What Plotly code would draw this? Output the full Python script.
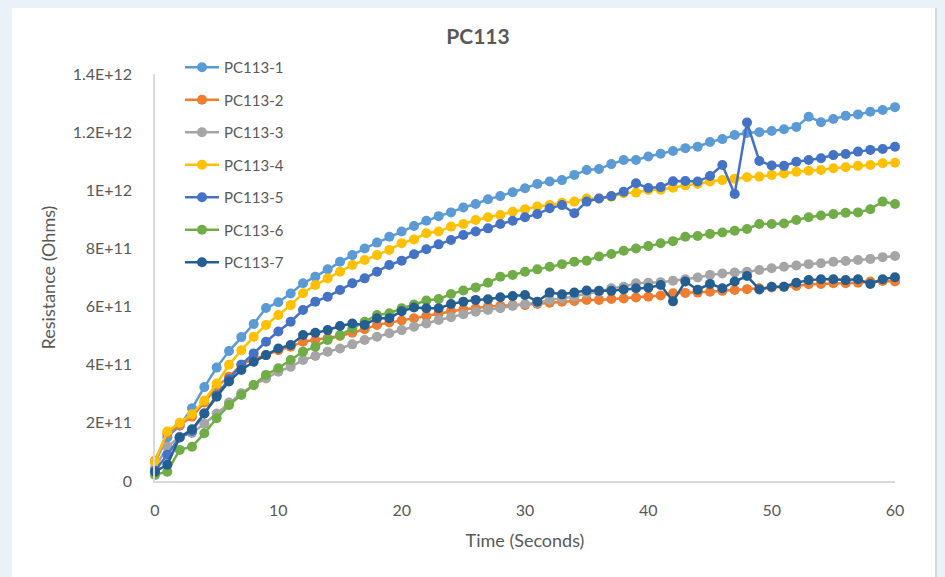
import plotly.graph_objects as go

time_s = list(range(61))

pc113_1 = [0.065, 0.15, 0.19, 0.25, 0.323, 0.39, 0.447, 0.495, 0.54, 0.595,
           0.615, 0.645, 0.68, 0.703, 0.728, 0.754, 0.777, 0.80, 0.82, 0.84,
           0.858, 0.877, 0.895, 0.911, 0.924, 0.941, 0.953, 0.969, 0.98, 0.993,
           1.007, 1.022, 1.03, 1.035, 1.053, 1.07, 1.073, 1.09, 1.104, 1.104,
           1.116, 1.126, 1.135, 1.145, 1.15, 1.166, 1.176, 1.19, 1.197, 1.20,
           1.204, 1.21, 1.218, 1.253, 1.234, 1.245, 1.256, 1.261, 1.27, 1.276,
           1.286]
pc113_2 = [0.07, 0.164, 0.193, 0.221, 0.27, 0.324, 0.359, 0.40, 0.42, 0.433,
           0.45, 0.462, 0.479, 0.485, 0.491, 0.499, 0.51, 0.522, 0.537, 0.545,
           0.552, 0.56, 0.567, 0.577, 0.585, 0.591, 0.594, 0.60, 0.603, 0.605,
           0.605, 0.609, 0.613, 0.617, 0.619, 0.623, 0.623, 0.626, 0.628, 0.631,
           0.634, 0.638, 0.646, 0.647, 0.648, 0.651, 0.654, 0.657, 0.66, 0.663,
           0.666, 0.668, 0.671, 0.677, 0.678, 0.68, 0.68, 0.682, 0.686, 0.688,
           0.686]
pc113_3 = [0.045, 0.118, 0.152, 0.165, 0.197, 0.232, 0.27, 0.302, 0.33, 0.353,
           0.376, 0.393, 0.416, 0.43, 0.445, 0.456, 0.47, 0.485, 0.496, 0.508,
           0.519, 0.531, 0.542, 0.554, 0.563, 0.574, 0.582, 0.588, 0.594, 0.602,
           0.609, 0.613, 0.623, 0.628, 0.634, 0.646, 0.651, 0.663, 0.668, 0.68,
           0.682, 0.684, 0.689, 0.694, 0.70, 0.709, 0.714, 0.717, 0.72, 0.726,
           0.732, 0.737, 0.741, 0.746, 0.749, 0.754, 0.757, 0.76, 0.764, 0.77,
           0.774]
pc113_4 = [0.066, 0.17, 0.20, 0.23, 0.277, 0.335, 0.40, 0.45, 0.496, 0.537,
           0.571, 0.605, 0.646, 0.674, 0.697, 0.72, 0.743, 0.76, 0.777, 0.795,
           0.818, 0.831, 0.852, 0.858, 0.875, 0.884, 0.898, 0.907, 0.915, 0.926,
           0.935, 0.944, 0.949, 0.957, 0.961, 0.972, 0.972, 0.978, 0.99, 0.992,
           1.001, 1.002, 1.009, 1.017, 1.022, 1.03, 1.035, 1.04, 1.045, 1.047,
           1.053, 1.058, 1.064, 1.067, 1.07, 1.076, 1.079, 1.084, 1.087, 1.093,
           1.095]
pc113_5 = [0.035, 0.09, 0.15, 0.172, 0.232, 0.295, 0.35, 0.40, 0.439, 0.479,
           0.514, 0.548, 0.588, 0.617, 0.634, 0.657, 0.68, 0.697, 0.72, 0.743,
           0.758, 0.78, 0.797, 0.814, 0.829, 0.846, 0.858, 0.869, 0.884, 0.895,
           0.907, 0.918, 0.938, 0.949, 0.921, 0.961, 0.972, 0.98, 0.995, 1.024,
           1.008, 1.011, 1.031, 1.032, 1.03, 1.049, 1.087, 0.987, 1.233, 1.101,
           1.085, 1.084, 1.098, 1.104, 1.11, 1.121, 1.125, 1.133, 1.139, 1.142,
           1.15]
pc113_6 = [0.021, 0.032, 0.107, 0.118, 0.164, 0.216, 0.261, 0.296, 0.33, 0.365,
           0.388, 0.416, 0.445, 0.462, 0.485, 0.502, 0.525, 0.548, 0.571, 0.577,
           0.594, 0.607, 0.621, 0.626, 0.643, 0.655, 0.666, 0.682, 0.703, 0.709,
           0.72, 0.728, 0.737, 0.746, 0.754, 0.758, 0.772, 0.781, 0.792, 0.80,
           0.808, 0.818, 0.825, 0.84, 0.843, 0.85, 0.855, 0.861, 0.867, 0.884,
           0.884, 0.886, 0.898, 0.907, 0.913, 0.918, 0.923, 0.924, 0.935, 0.961,
           0.953]
pc113_7 = [0.032, 0.056, 0.15, 0.178, 0.232, 0.29, 0.342, 0.382, 0.41, 0.433,
           0.456, 0.468, 0.502, 0.51, 0.519, 0.533, 0.542, 0.537, 0.56, 0.56,
           0.584, 0.597, 0.594, 0.594, 0.609, 0.617, 0.623, 0.625, 0.632, 0.636,
           0.64, 0.617, 0.648, 0.642, 0.648, 0.655, 0.654, 0.654, 0.659, 0.663,
           0.665, 0.674, 0.618, 0.686, 0.658, 0.678, 0.663, 0.686, 0.705, 0.659,
           0.668, 0.668, 0.682, 0.691, 0.694, 0.694, 0.691, 0.694, 0.678, 0.694,
           0.701]

series_names = ["PC113-1", "PC113-2", "PC113-3", "PC113-4", "PC113-5", "PC113-6", "PC113-7"]
series_values = [pc113_1, pc113_2, pc113_3, pc113_4, pc113_5, pc113_6, pc113_7]
series_colors = ["#5B9BD5", "#ED7D31", "#A5A5A5", "#FFC000", "#4472C4", "#70AD47", "#255E91"]

y_tick_vals = [0, 2e11, 4e11, 6e11, 8e11, 1e12, 1.2e12, 1.4e12]
y_tick_text = ["0", "2E+11", "4E+11", "6E+11", "8E+11", "1E+12", "1.2E+12", "1.4E+12"]
x_tick_vals = [0, 10, 20, 30, 40, 50, 60]

FONT = "Lato"
TXT = "#595959"

fig = go.Figure()
for i, (name, vals, col) in enumerate(zip(series_names, series_values, series_colors)):
    fig.add_trace(go.Scatter(
        x=time_s, y=[v * 1e12 for v in vals], name=name,
        mode="lines+markers",
        line=dict(color=col, width=2.5),
        marker=dict(color=col, size=10, line=dict(width=0)),
        cliponaxis=False,
        legendgroup=name,
    ))

W, H = 945, 577
L, R, T, B = 155, 50, 74, 96
pw, ph = W - L - R, H - T - B

def px(xp):
    return (xp - L) / pw

def py(yp):
    return (H - B - yp) / ph

fig.update_layout(
    width=W, height=H,
    margin=dict(l=L, r=R, t=T, b=B),
    paper_bgcolor="#EAF1F8",
    plot_bgcolor="white",
    font=dict(family=FONT, color=TXT, size=16),
    title=dict(text="<b>PC113</b>", xref="container", x=478 / W, xanchor="center",
               yref="container", y=1 - 37 / H, yanchor="middle",
               font=dict(size=21, color=TXT, family=FONT)),
    showlegend=True,
    legend=dict(x=px(180), y=py(51), xanchor="left", yanchor="top",
                bgcolor="rgba(0,0,0,0)", font=dict(size=15, color=TXT, family=FONT),
                traceorder="grouped", tracegroupgap=10, itemwidth=34),
    shapes=[
        dict(type="rect", xref="paper", yref="paper", x0=px(12), x1=px(935),
             y0=py(577), y1=py(8), fillcolor="white", line=dict(width=0), layer="below"),
        dict(type="line", xref="paper", yref="paper", x0=px(936), x1=px(936),
             y0=py(577), y1=py(8), line=dict(color="#C8CDD2", width=1.5), layer="below"),
    ],
    xaxis=dict(range=[0, 60], tickvals=x_tick_vals, showgrid=False, zeroline=False,
               showline=True, linecolor="#D9D9D9", linewidth=1.5, ticks="",
               tickfont=dict(size=16, color=TXT), ticklabelstandoff=14,
               title=dict(text="Time (Seconds)", font=dict(size=18, color=TXT), standoff=16)),
    yaxis=dict(range=[0, 1.4e12], tickvals=y_tick_vals, ticktext=y_tick_text,
               showgrid=False, zeroline=False, showline=True, linecolor="#D9D9D9",
               linewidth=1.5, ticks="", tickfont=dict(size=16, color=TXT),
               ticklabelstandoff=18,
               title=dict(text="Resistance (Ohms)", font=dict(size=18, color=TXT), standoff=12)),
)

fig.write_html("out.html")
